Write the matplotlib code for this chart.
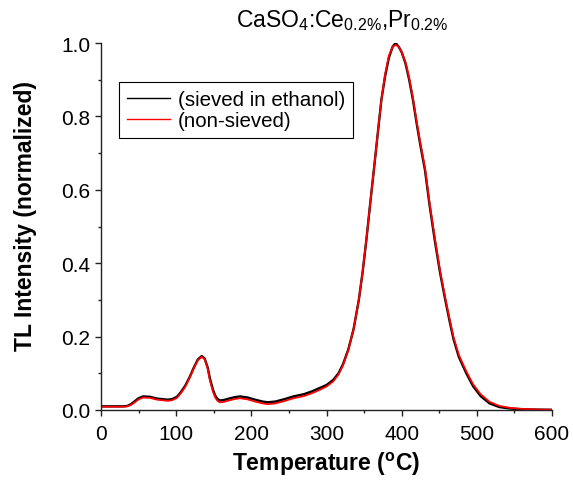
import matplotlib
matplotlib.use("Agg")
import matplotlib.pyplot as plt
from matplotlib.ticker import MultipleLocator

plt.rcParams['font.family'] = ['Liberation Sans', 'DejaVu Sans']
plt.rcParams['mathtext.default'] = 'regular'

# temperature (C) sample points
temp = [0, 10, 20, 30, 35, 40, 45, 50, 56, 65,
        75, 89, 95, 101, 106, 112, 118, 124, 129, 134,
        138, 142, 145, 149, 152, 155, 158, 163, 170, 178,
        185, 195, 205, 215, 222, 232, 245, 256, 270, 281,
        291, 300, 309, 316, 322, 329, 336, 343, 348, 353,
        358, 363, 368, 373, 378, 383, 388, 392, 396, 400,
        405, 410, 415, 420, 425, 431, 437, 444, 451, 458,
        464, 469, 476, 486, 495, 505, 517, 530, 544, 560,
        580, 600]

sieved = [0.010, 0.010, 0.010, 0.010, 0.011, 0.016, 0.024, 0.032, 0.037, 0.036,
          0.031, 0.028, 0.030, 0.036, 0.048, 0.066, 0.090, 0.118, 0.138, 0.147,
          0.140, 0.115, 0.085, 0.055, 0.039, 0.030, 0.026, 0.027, 0.031, 0.035,
          0.037, 0.034, 0.028, 0.023, 0.021, 0.023, 0.030, 0.037, 0.043, 0.051,
          0.060, 0.068, 0.082, 0.100, 0.125, 0.165, 0.22, 0.30, 0.375, 0.463,
          0.56, 0.654, 0.75, 0.845, 0.91, 0.96, 0.99, 1.0, 0.99, 0.975,
          0.945, 0.90, 0.845, 0.78, 0.72, 0.654, 0.56, 0.463, 0.375, 0.30,
          0.24, 0.193, 0.145, 0.10, 0.065, 0.038, 0.018, 0.008, 0.004, 0.002,
          0.001, 0.0005]

non_sieved = [0.009, 0.009, 0.009, 0.009, 0.010, 0.014, 0.021, 0.029, 0.034, 0.033,
              0.028, 0.025, 0.027, 0.033, 0.045, 0.063, 0.088, 0.116, 0.136, 0.145,
              0.138, 0.112, 0.080, 0.050, 0.034, 0.025, 0.021, 0.022, 0.026, 0.030,
              0.032, 0.029, 0.023, 0.018, 0.016, 0.018, 0.025, 0.032, 0.038, 0.046,
              0.055, 0.064, 0.078, 0.097, 0.122, 0.163, 0.22, 0.30, 0.375, 0.463,
              0.56, 0.654, 0.75, 0.845, 0.915, 0.965, 0.99, 0.995, 0.99, 0.975,
              0.948, 0.905, 0.85, 0.785, 0.725, 0.66, 0.565, 0.47, 0.38, 0.305,
              0.245, 0.198, 0.15, 0.105, 0.07, 0.043, 0.022, 0.011, 0.006, 0.003,
              0.0015, 0.0008]

labels = ['(sieved in ethanol)', '(non-sieved)']

fig = plt.figure(figsize=(5.73, 4.89), dpi=100)
ax = fig.add_axes([101/573, 78/489, 451/573, 367/489])

ax.plot(temp, sieved, color='black', lw=1.7, label=labels[0])
ax.plot(temp, non_sieved, color='red', lw=1.3, label=labels[1])

ax.set_xlim(0, 600)
ax.set_ylim(0, 1.0)
ax.xaxis.set_major_locator(MultipleLocator(100))
ax.xaxis.set_minor_locator(MultipleLocator(50))
ax.yaxis.set_major_locator(MultipleLocator(0.2))
ax.yaxis.set_minor_locator(MultipleLocator(0.1))
ax.yaxis.set_major_formatter(matplotlib.ticker.FormatStrFormatter('%.1f'))

for s in ['top', 'right']:
    ax.spines[s].set_visible(False)
for s in ['left', 'bottom']:
    ax.spines[s].set_linewidth(1.0)
    ax.spines[s].set_color('#222222')

ax.tick_params(which='major', length=4, width=1.0, labelsize=15, color='#222222')
ax.tick_params(which='minor', length=2.2, width=1.0, color='#222222')
ax.tick_params(axis='x', which='major', pad=6)
ax.tick_params(axis='y', which='major', pad=3.5)

ax.set_xlabel('Temperature ($^o$C)', fontsize=16.5, fontweight='bold', labelpad=5)
ax.set_ylabel('TL Intensity (normalized)', fontsize=16.5, fontweight='bold')
ax.yaxis.set_label_coords(-0.143, 0.531)

ax.text(0.534, 1.045, 'CaSO$_4$:Ce$_{0.2\\%}$,Pr$_{0.2\\%}$', transform=ax.transAxes,
        ha='center', va='baseline', fontsize=16.5)

leg = ax.legend(loc='upper left', bbox_to_anchor=(0.04, 0.894), borderaxespad=0,
                fontsize=14.8, frameon=True, fancybox=False, edgecolor='black',
                framealpha=1, handlelength=2.1, handletextpad=0.35,
                borderpad=0.4, labelspacing=0.1)
leg.get_frame().set_linewidth(0.8)
for line in leg.get_lines():
    line.set_linewidth(1.0)

fig.savefig('out.png', dpi=100)
